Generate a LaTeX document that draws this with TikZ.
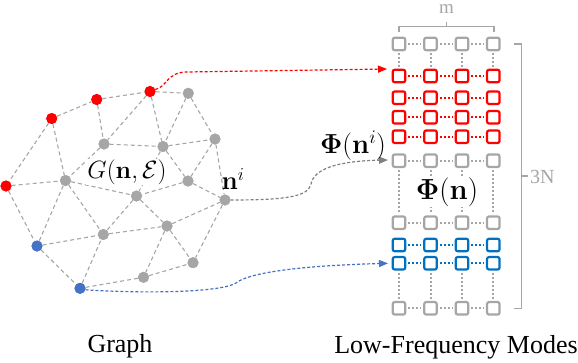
\RequirePackage{fix-cm}
\documentclass[tikz,border=0pt]{standalone}
\usepackage[no-math]{fontspec}
\setmainfont{Liberation Serif}
\usepackage{amsmath}
\usetikzlibrary{arrows.meta}
\definecolor{gnode}{HTML}{A6A6A6}
\definecolor{rnode}{HTML}{FF0000}
\definecolor{bnode}{HTML}{4472C4}
\definecolor{bbox}{HTML}{0070C0}
\definecolor{gbox}{HTML}{A6A6A6}
\definecolor{garr}{HTML}{808080}
\begin{document}
\begin{tikzpicture}[x=1pt,y=-1pt,
  vtx/.style={circle,inner sep=0pt,minimum size=11pt},
  gv/.style={vtx,fill=gnode},
  rv/.style={vtx,fill=rnode},
  bv/.style={vtx,fill=bnode},
  edge/.style={draw=gnode,dash pattern=on 4pt off 3pt,line width=1.1pt},
  sq/.style={draw,rounded corners=2pt,minimum size=12.5pt,inner sep=0pt,line width=2.2pt},
  gsq/.style={sq,draw=gbox},
  rsq/.style={sq,draw=rnode},
  bsq/.style={sq,draw=bbox},
  dots/.style={line width=2pt,dash pattern=on 2pt off 2pt,shorten <=2pt,shorten >=2pt},
  conn/.style={line width=1.2pt,dash pattern=on 3pt off 2pt,-{Triangle[length=9pt,width=7pt]}},
  lbl/.style={inner sep=0pt,font=\fontsize{26}{30}\selectfont},
  glbl/.style={inner sep=0pt,text=gbox,font=\fontsize{19}{22}\selectfont}
]
\useasboundingbox (0,0) rectangle (578,362);

% graph vertices
\node[rv] (R1) at (150,91.5) {};
\node[rv] (R2) at (96.7,99.5) {};
\node[rv] (R3) at (51.7,118.5) {};
\node[rv] (R4) at (6,186) {};
\node[bv] (B1) at (37,246) {};
\node[bv] (B2) at (80,288.3) {};
\node[gv] (G1) at (188.3,93.3) {};
\node[gv] (G2) at (104,144) {};
\node[gv] (G3) at (163,146.5) {};
\node[gv] (G4) at (215,139) {};
\node[gv] (G5) at (65.5,180.5) {};
\node[gv] (G6) at (188,181) {};
\node[gv] (G7) at (136.5,196) {};
\node[gv] (G8) at (225,200) {};
\node[gv] (G9) at (103.3,234.5) {};
\node[gv] (G10) at (167,226) {};
\node[gv] (G11) at (193,262.7) {};
\node[gv] (G12) at (143.5,277.3) {};

\foreach \a/\b in {R3/R2,R2/R1,R1/G1,R3/R4,R3/G5,R2/G2,R1/G2,R1/G3,G1/G3,G1/G4,
  G2/G3,G3/G4,G2/G5,G3/G6,G4/G6,G4/G8,G6/G8,G6/G7,G3/G7,G5/G7,R4/G5,R4/B1,
  G5/G9,G5/B1,B1/G9,B1/B2,B2/G9,G7/G9,G9/G10,B2/G12,G7/G10,G10/G8,G10/G11,
  G8/G11,G12/G11,G10/G12}
  \draw[edge] (\a) -- (\b);
% redraw vertices on top
\foreach \n in {R1,R2,R3,R4} \fill[rnode] (\n) circle (5.5pt);
\foreach \n in {B1,B2} \fill[bnode] (\n) circle (5.5pt);
\foreach \n in {G1,G2,G3,G4,G5,G6,G7,G8,G9,G10,G11,G12} \fill[gnode] (\n) circle (5.5pt);

\node[inner sep=1pt,fill=white,font=\fontsize{25}{28}\selectfont] (glabel) at (127,172) {$G(\mathbf{n},\mathcal{E})$};
\node[inner sep=0pt,font=\fontsize{26}{28}\selectfont] (nilabel) at (233,179) {$\mathbf{n}^i$};

% mode matrix
\foreach \r/\y in {a/44,f/160.7,g/222.7,j/308.3}
  \foreach \c/\x in {1/399,2/430.5,3/462,4/493.3}
    \node[gsq] (\r\c) at (\x,\y) {};
\foreach \r/\y in {b/76,c/97.7,d/117.3,e/136.7}
  \foreach \c/\x in {1/399,2/430.5,3/462,4/493.3}
    \node[rsq] (\r\c) at (\x,\y) {};
\foreach \r/\y in {h/245,i/263.3}
  \foreach \c/\x in {1/399,2/430.5,3/462,4/493.3}
    \node[bsq] (\r\c) at (\x,\y) {};

\foreach \c/\d in {1/2,2/3,3/4}{
  \foreach \r in {a,f,g,j} \draw[dots,gbox] (\r\c) -- (\r\d);
  \foreach \r in {b,c,d,e} \draw[dots,rnode] (\r\c) -- (\r\d);
  \foreach \r in {h,i} \draw[dots,bbox] (\r\c) -- (\r\d);
}
\foreach \c in {1,2,3,4}{
  \draw[dots,gbox] (a\c) -- (b\c);
  \draw[dots,gbox] (f\c) -- (g\c);
  \draw[dots,gbox] (i\c) -- (j\c);
}
\node[inner sep=1pt,fill=white,font=\fontsize{29}{32}\selectfont] (phin) at (447,192) {$\boldsymbol{\Phi}(\mathbf{n})$};

% brackets
\coordinate (mL) at (399,32);
\coordinate (mR) at (494,32);
\draw[gbox,line width=1.2pt] (mL) -- (399,26.7) -- (494,26.7) -- (mR);
\draw[gbox,line width=1.2pt] (446.5,26.7) -- (446.5,21.5);
\node[glbl] (mlabel) at (446.5,9) {m};
\coordinate (nT) at (514,44);
\coordinate (nB) at (514,308.3);
\draw[gbox,line width=1.2pt] (nT) -- (521.7,44) -- (521.7,308.3) -- (nB);
\draw[gbox,line width=1.2pt] (521.7,176) -- (528,176);
\node[glbl,anchor=west,font=\fontsize{20}{24}\selectfont] (nlabel) at (530,177) {3N};

% connectors
\coordinate (rtip) at (387,69);
\coordinate (gtip) at (388,160);
\coordinate (btip) at (388,263.3);
\draw[conn,rnode] (R1.20) .. controls (168,86) and (166,73) .. (186,72) -- (rtip);
\draw[conn,garr] (G8.east) .. controls (290,200) and (308,196) .. (311,184) .. controls (314,168) and (340,161) .. (gtip);
\draw[conn,bnode] (B2.-15) .. controls (150,294) and (222,292) .. (236,283) .. controls (247,274) and (290,266) .. (btip);

\node[inner sep=0pt,font=\fontsize{27.5}{30}\selectfont] (phini) at (353,146) {$\boldsymbol{\Phi}(\mathbf{n}^i)$};

\node[lbl] (graphlbl) at (120,346) {Graph};
\node[lbl] (modeslbl) at (456,347) {Low-Frequency Modes};
\end{tikzpicture}
\end{document}
